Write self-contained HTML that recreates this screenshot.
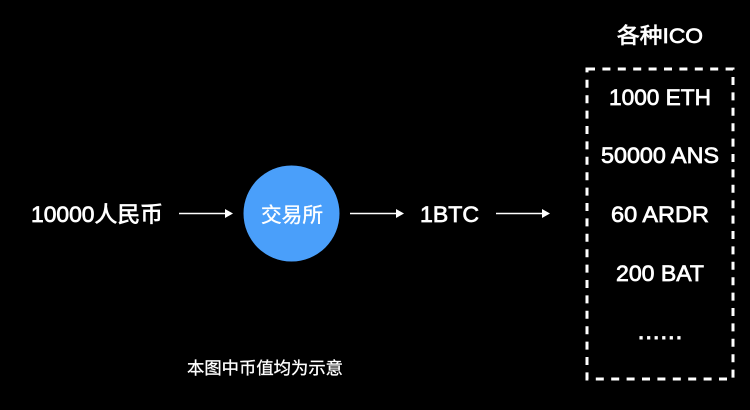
<!DOCTYPE html>
<html>
<head>
<meta charset="utf-8">
<style>
html,body{margin:0;padding:0;background:#000;width:750px;height:410px;overflow:hidden}
svg{display:block}
text{font-family:"Liberation Sans","Noto Sans CJK SC",sans-serif;fill:#fff;stroke:#fff;stroke-width:.7px}
</style>
</head>
<body>
<svg width="750" height="410" viewBox="0 0 750 410" xmlns="http://www.w3.org/2000/svg">
<rect width="750" height="410" fill="#000"/>
<circle cx="291.5" cy="213.5" r="48" fill="#4a9ffa"/>
<text x="31" y="222" font-size="22" textLength="132" lengthAdjust="spacingAndGlyphs">10000人民币</text>
<text x="261" y="222" font-size="20.5" textLength="62" lengthAdjust="spacingAndGlyphs" style="stroke-width:.35px">交易所</text>
<text x="420" y="222" font-size="22" textLength="59" lengthAdjust="spacingAndGlyphs">1BTC</text>
<g stroke="#fff" stroke-width="1.6" fill="none">
<path d="M179 213.5H226"/>
<path d="M350 213.5H397"/>
<path d="M496 213.5H543"/>
</g>
<g fill="#fff">
<path d="M225 209L233 213.5L225 218Z"/>
<path d="M396 209L404 213.5L396 218Z"/>
<path d="M542 209L550 213.5L542 218Z"/>
</g>
<text x="617" y="43" font-size="21.5" textLength="86" lengthAdjust="spacingAndGlyphs">各种ICO</text>
<rect x="587" y="69" width="146" height="310" fill="none" stroke="#fff" stroke-width="3" stroke-dasharray="8 7.4"/>
<text x="609" y="105" font-size="22" textLength="102" lengthAdjust="spacingAndGlyphs">1000 ETH</text>
<text x="601" y="163" font-size="22" textLength="118" lengthAdjust="spacingAndGlyphs">50000 ANS</text>
<text x="611" y="222" font-size="22" textLength="98" lengthAdjust="spacingAndGlyphs">60 ARDR</text>
<text x="616" y="281" font-size="22" textLength="88" lengthAdjust="spacingAndGlyphs">200 BAT</text>
<text x="638" y="339" font-size="22" textLength="44" lengthAdjust="spacing" style="stroke-width:1.1px">......</text>
<text x="187" y="374" font-size="17" textLength="156" lengthAdjust="spacingAndGlyphs" style="stroke-width:.3px">本图中币值均为示意</text>
</svg>
</body>
</html>
